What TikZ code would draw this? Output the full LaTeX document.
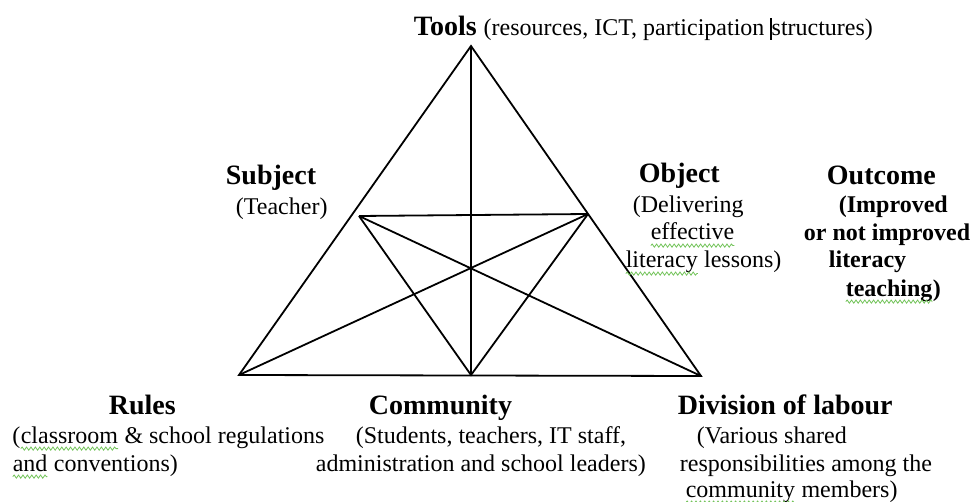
\documentclass[tikz,border=0pt]{standalone}
\usepackage{fontspec}
\setmainfont{Liberation Serif}
\usetikzlibrary{decorations.pathmorphing}

\definecolor{squig}{RGB}{115,195,90}
% wavy spell-check mark under a word
\newcommand\spellmark[1]{\tikz[baseline=(w.base)]{\node[inner sep=0pt,outer sep=0pt,anchor=base west,draw=none] (w) at (0,0) {#1};
  \draw[squig,line width=0.4pt,decorate,decoration={snake,amplitude=0.8pt,segment length=2.2pt}] ([yshift=-2.8pt]w.base west) -- ([yshift=-2.8pt]w.base east);}}

\tikzset{
  head/.style={anchor=base west, inner sep=0pt, font=\fontsize{14}{16}\selectfont\bfseries},
  body/.style={anchor=base west, inner sep=0pt, font=\fontsize{12}{14}\selectfont},
  boldbody/.style={body, font=\fontsize{12}{14}\selectfont\bfseries},
}

\begin{document}
\begin{tikzpicture}[x=0.5pt,y=-0.5pt,line width=0.9pt]
\useasboundingbox (0,0) rectangle (974,502);

% corners and mid points of the triangle
\coordinate (tools) at (471,46);
\coordinate (rules) at (239,375);
\coordinate (division) at (701,376);
\coordinate (community) at (471,375);
\coordinate (subject) at (359,216);
\coordinate (object) at (588,214);

\draw[line join=miter] (tools) -- (rules) -- (division) -- cycle;
\draw (tools) -- (community);
\draw (subject) -- (object);
\draw (subject) -- (community) -- (object);
\draw (subject) -- (division);
\draw (object) -- (rules);

% top
\node[head] (toolsHead) at (413,36) {Tools {\fontsize{12}{14}\selectfont\mdseries (resources, ICT, participation \rule[-2pt]{0.6pt}{11pt}structures)}};

% subject
\node[head] (subjectHead) at (225,185) {Subject};
\node[body] (subjectA) at (235,215) {(Teacher)};

% object
\node[head] (objectHead) at (638,183) {Object};
\node[body] (objectA) at (632,213) {(Delivering};
\node[body] (objectB) at (650,240) {\spellmark{effective}};
\node[body] (objectC) at (625,268) {\spellmark{literacy} lessons)};

% outcome
\node[head] (outcomeHead) at (826,185) {Outcome};
\node[boldbody] (outcomeA) at (838,213) {(Improved};
\node[boldbody] (outcomeB) at (803,241) {or not improved};
\node[boldbody] (outcomeC) at (828,268) {literacy};
\node[boldbody] (outcomeD) at (845,296) {\spellmark{teaching})};

% rules
\node[head] (rulesHead) at (108,414) {Rules};
\node[body] (rulesA) at (12,443) {(\spellmark{classroom} \& school regulations};
\node[body] (rulesB) at (12,471) {\spellmark{and} conventions)};

% community
\node[head] (communityHead) at (368,414) {Community};
\node[body] (communityA) at (355,443) {(Students, teachers, IT staff,};
\node[body] (communityB) at (315,471) {administration and school leaders)};

% division of labour
\node[head] (divisionHead) at (677,414) {Division of labour};
\node[body] (divisionA) at (696,443) {(Various shared};
\node[body] (divisionB) at (679,471) {responsibilities among the};
\node[body] (divisionC) at (685,497) {\spellmark{community} members)};
\end{tikzpicture}
\end{document}
